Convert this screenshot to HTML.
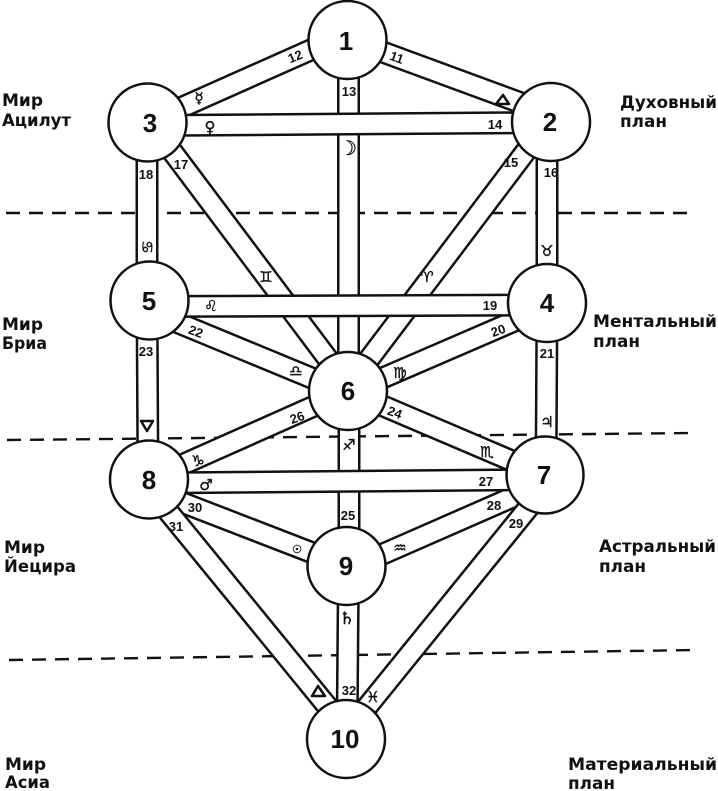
<!DOCTYPE html>
<html><head><meta charset="utf-8"><style>
html,body{margin:0;padding:0;background:#fff;}
svg{display:block;}
.w{font-family:"DejaVu Sans","Liberation Sans",sans-serif;font-weight:bold;font-size:17px;fill:#111;}
.n{font-family:"Liberation Sans","DejaVu Sans",sans-serif;font-weight:bold;font-size:26px;fill:#111;text-anchor:middle;}
.p{font-family:"Liberation Sans","DejaVu Sans",sans-serif;font-weight:bold;font-size:13px;fill:#111;text-anchor:middle;}
.s{font-family:"DejaVu Sans",sans-serif;font-weight:bold;font-size:15px;fill:#111;text-anchor:middle;stroke:#111;stroke-width:0.4;}
</style></head><body>
<svg width="718" height="791" viewBox="0 0 718 791" xmlns="http://www.w3.org/2000/svg">
<rect width="718" height="791" fill="#fff"/>
<g stroke="#111" stroke-width="2.4" stroke-dasharray="14 9" fill="none">
<line x1="6" y1="213" x2="695" y2="213"/>
<line x1="7" y1="440" x2="693" y2="433"/>
<line x1="9" y1="660" x2="697" y2="650"/>
</g>
<g stroke-linecap="butt" fill="none">
<g>
<line x1="347.5" y1="39" x2="551" y2="114" stroke="#111" stroke-width="23"/><line x1="347.5" y1="39" x2="551" y2="114" stroke="#fff" stroke-width="18"/>
<line x1="147.5" y1="122.6" x2="347.5" y2="33.6" stroke="#111" stroke-width="23"/><line x1="147.5" y1="122.6" x2="347.5" y2="33.6" stroke="#fff" stroke-width="18"/>
<line x1="348.5" y1="40" x2="348.5" y2="391" stroke="#111" stroke-width="23"/><line x1="348.5" y1="40" x2="348.5" y2="391" stroke="#fff" stroke-width="18"/>
<line x1="548" y1="122" x2="345" y2="391" stroke="#111" stroke-width="23"/><line x1="548" y1="122" x2="345" y2="391" stroke="#fff" stroke-width="18"/>
<line x1="547" y1="122" x2="547" y2="303" stroke="#111" stroke-width="23"/><line x1="547" y1="122" x2="547" y2="303" stroke="#fff" stroke-width="18"/>
<line x1="150" y1="122" x2="352" y2="391" stroke="#111" stroke-width="23"/><line x1="150" y1="122" x2="352" y2="391" stroke="#fff" stroke-width="18"/>
<line x1="147" y1="122" x2="147" y2="300" stroke="#111" stroke-width="23"/><line x1="147" y1="122" x2="147" y2="300" stroke="#fff" stroke-width="18"/>
<line x1="547" y1="307" x2="348" y2="393" stroke="#111" stroke-width="23"/><line x1="547" y1="307" x2="348" y2="393" stroke="#fff" stroke-width="18"/>
<line x1="547" y1="303" x2="546" y2="475" stroke="#111" stroke-width="23"/><line x1="547" y1="303" x2="546" y2="475" stroke="#fff" stroke-width="18"/>
<line x1="149.5" y1="311" x2="348" y2="393" stroke="#111" stroke-width="23"/><line x1="149.5" y1="311" x2="348" y2="393" stroke="#fff" stroke-width="18"/>
<line x1="147" y1="300" x2="148" y2="479" stroke="#111" stroke-width="23"/><line x1="147" y1="300" x2="148" y2="479" stroke="#fff" stroke-width="18"/>
<line x1="348" y1="391" x2="545" y2="475" stroke="#111" stroke-width="23"/><line x1="348" y1="391" x2="545" y2="475" stroke="#fff" stroke-width="18"/>
<line x1="349" y1="391" x2="349" y2="566" stroke="#111" stroke-width="23"/><line x1="349" y1="391" x2="349" y2="566" stroke="#fff" stroke-width="18"/>
<line x1="348" y1="391" x2="149" y2="479.5" stroke="#111" stroke-width="23"/><line x1="348" y1="391" x2="149" y2="479.5" stroke="#fff" stroke-width="18"/>
<line x1="545" y1="483" x2="346.5" y2="570" stroke="#111" stroke-width="23"/><line x1="545" y1="483" x2="346.5" y2="570" stroke="#fff" stroke-width="18"/>
<line x1="555" y1="475" x2="341" y2="739" stroke="#111" stroke-width="23"/><line x1="555" y1="475" x2="341" y2="739" stroke="#fff" stroke-width="18"/>
<line x1="149" y1="489.7" x2="346.5" y2="566" stroke="#111" stroke-width="23"/><line x1="149" y1="489.7" x2="346.5" y2="566" stroke="#fff" stroke-width="18"/>
<line x1="142" y1="479.5" x2="354" y2="739" stroke="#111" stroke-width="23"/><line x1="142" y1="479.5" x2="354" y2="739" stroke="#fff" stroke-width="18"/>
<line x1="348.5" y1="566" x2="347" y2="739" stroke="#111" stroke-width="23"/><line x1="348.5" y1="566" x2="347" y2="739" stroke="#fff" stroke-width="18"/>
</g>
<line x1="147.5" y1="125.5" x2="551" y2="122.5" stroke="#111" stroke-width="23"/><line x1="147.5" y1="125.5" x2="551" y2="122.5" stroke="#fff" stroke-width="18"/>
<line x1="149.5" y1="306.5" x2="547" y2="305" stroke="#111" stroke-width="23"/><line x1="149.5" y1="306.5" x2="547" y2="305" stroke="#fff" stroke-width="18"/>
<line x1="149" y1="483" x2="545" y2="479.5" stroke="#111" stroke-width="23"/><line x1="149" y1="483" x2="545" y2="479.5" stroke="#fff" stroke-width="18"/>
</g>
<g fill="#fff" stroke="#111" stroke-width="2.5">
<circle cx="347.5" cy="40" r="39"/>
<circle cx="551" cy="122" r="39"/>
<circle cx="147.5" cy="122.5" r="39"/>
<circle cx="547" cy="303" r="39"/>
<circle cx="149.5" cy="300.5" r="39"/>
<circle cx="348" cy="391" r="39"/>
<circle cx="545" cy="475" r="38.5"/>
<circle cx="149" cy="479.5" r="39"/>
<circle cx="346.5" cy="566" r="39"/>
<circle cx="346" cy="739" r="39"/>
</g>
<g class="n">
<text x="346" y="50">1</text>
<text x="550" y="131">2</text>
<text x="150" y="132">3</text>
<text x="547" y="312">4</text>
<text x="149" y="310">5</text>
<text x="348" y="400">6</text>
<text x="544" y="484">7</text>
<text x="149" y="489">8</text>
<text x="346" y="575">9</text>
<text x="345" y="748">10</text>
</g>
<g class="p">
<text x="295" y="61" transform="rotate(-22 295 56)">12</text>
<text x="397" y="62" transform="rotate(20 397 57)">11</text>
<text x="349" y="96">13</text>
<text x="495" y="129">14</text>
<text x="181" y="169">17</text>
<text x="146" y="179">18</text>
<text x="511" y="167">15</text>
<text x="551" y="177">16</text>
<text x="490" y="310">19</text>
<text x="196" y="336" transform="rotate(20 196 331)">22</text>
<text x="498" y="335" transform="rotate(-20 498 330)">20</text>
<text x="146" y="356">23</text>
<text x="547" y="358">21</text>
<text x="297" y="422" transform="rotate(-20 297 417)">26</text>
<text x="395" y="417" transform="rotate(20 395 412)">24</text>
<text x="486" y="486">27</text>
<text x="195" y="512">30</text>
<text x="348" y="520">25</text>
<text x="494" y="510">28</text>
<text x="176" y="531">31</text>
<text x="516" y="528">29</text>
<text x="349" y="695">32</text>
</g>
<g class="s">
<text x="199" y="103">☿&#xFE0E;</text>
<text x="210" y="132">♀&#xFE0E;</text>
<text x="348" y="155" font-size="20">☽&#xFE0E;</text>
<text x="147" y="252" transform="rotate(90 147 247)">♋&#xFE0E;</text>
<text x="547" y="256">♉&#xFE0E;</text>
<text x="266" y="282">♊&#xFE0E;</text>
<text x="427" y="282">♈&#xFE0E;</text>
<text x="211" y="311">♌&#xFE0E;</text>
<text x="296" y="376">♎&#xFE0E;</text>
<text x="400" y="378">♍&#xFE0E;</text>
<text x="547" y="427">♃&#xFE0E;</text>
<text x="349" y="450">♐&#xFE0E;</text>
<text x="198" y="466">♑&#xFE0E;</text>
<text x="487" y="457">♏&#xFE0E;</text>
<text x="206" y="490">♂&#xFE0E;</text>
<text x="297" y="553" font-size="11">☉&#xFE0E;</text>
<text x="400" y="553">♒&#xFE0E;</text>
<text x="347" y="624" font-size="17">♄&#xFE0E;</text>
<text x="373" y="702">♓&#xFE0E;</text>
</g>
<g fill="none" stroke="#111" stroke-width="2.5" stroke-linejoin="round">
<polygon points="496,104 509,104 503,95"/>
<polygon points="141,421 153,421 147,431"/>
<polygon points="312,696 325,696 318,686"/>
</g>
<g class="w">
<text x="2" y="106" textLength="41" lengthAdjust="spacingAndGlyphs">Мир</text>
<text x="2" y="126" textLength="69" lengthAdjust="spacingAndGlyphs">Ацилут</text>
<text x="2" y="330" textLength="41" lengthAdjust="spacingAndGlyphs">Мир</text>
<text x="2" y="349" textLength="45" lengthAdjust="spacingAndGlyphs">Бриа</text>
<text x="4" y="553" textLength="41" lengthAdjust="spacingAndGlyphs">Мир</text>
<text x="4" y="572" textLength="72" lengthAdjust="spacingAndGlyphs">Йецира</text>
<text x="5" y="770" textLength="41" lengthAdjust="spacingAndGlyphs">Мир</text>
<text x="5" y="788" textLength="45" lengthAdjust="spacingAndGlyphs">Асиа</text>
<text x="620" y="108" textLength="97" lengthAdjust="spacingAndGlyphs">Духовный</text>
<text x="620" y="127" textLength="47" lengthAdjust="spacingAndGlyphs">план</text>
<text x="593" y="327" textLength="124" lengthAdjust="spacingAndGlyphs">Ментальный</text>
<text x="593" y="347" textLength="47" lengthAdjust="spacingAndGlyphs">план</text>
<text x="599" y="552" textLength="117" lengthAdjust="spacingAndGlyphs">Астральный</text>
<text x="599" y="572" textLength="47" lengthAdjust="spacingAndGlyphs">план</text>
<text x="568" y="770" textLength="149" lengthAdjust="spacingAndGlyphs">Материальный</text>
<text x="568" y="789" textLength="47" lengthAdjust="spacingAndGlyphs">план</text>
</g>
</svg>
</body></html>
